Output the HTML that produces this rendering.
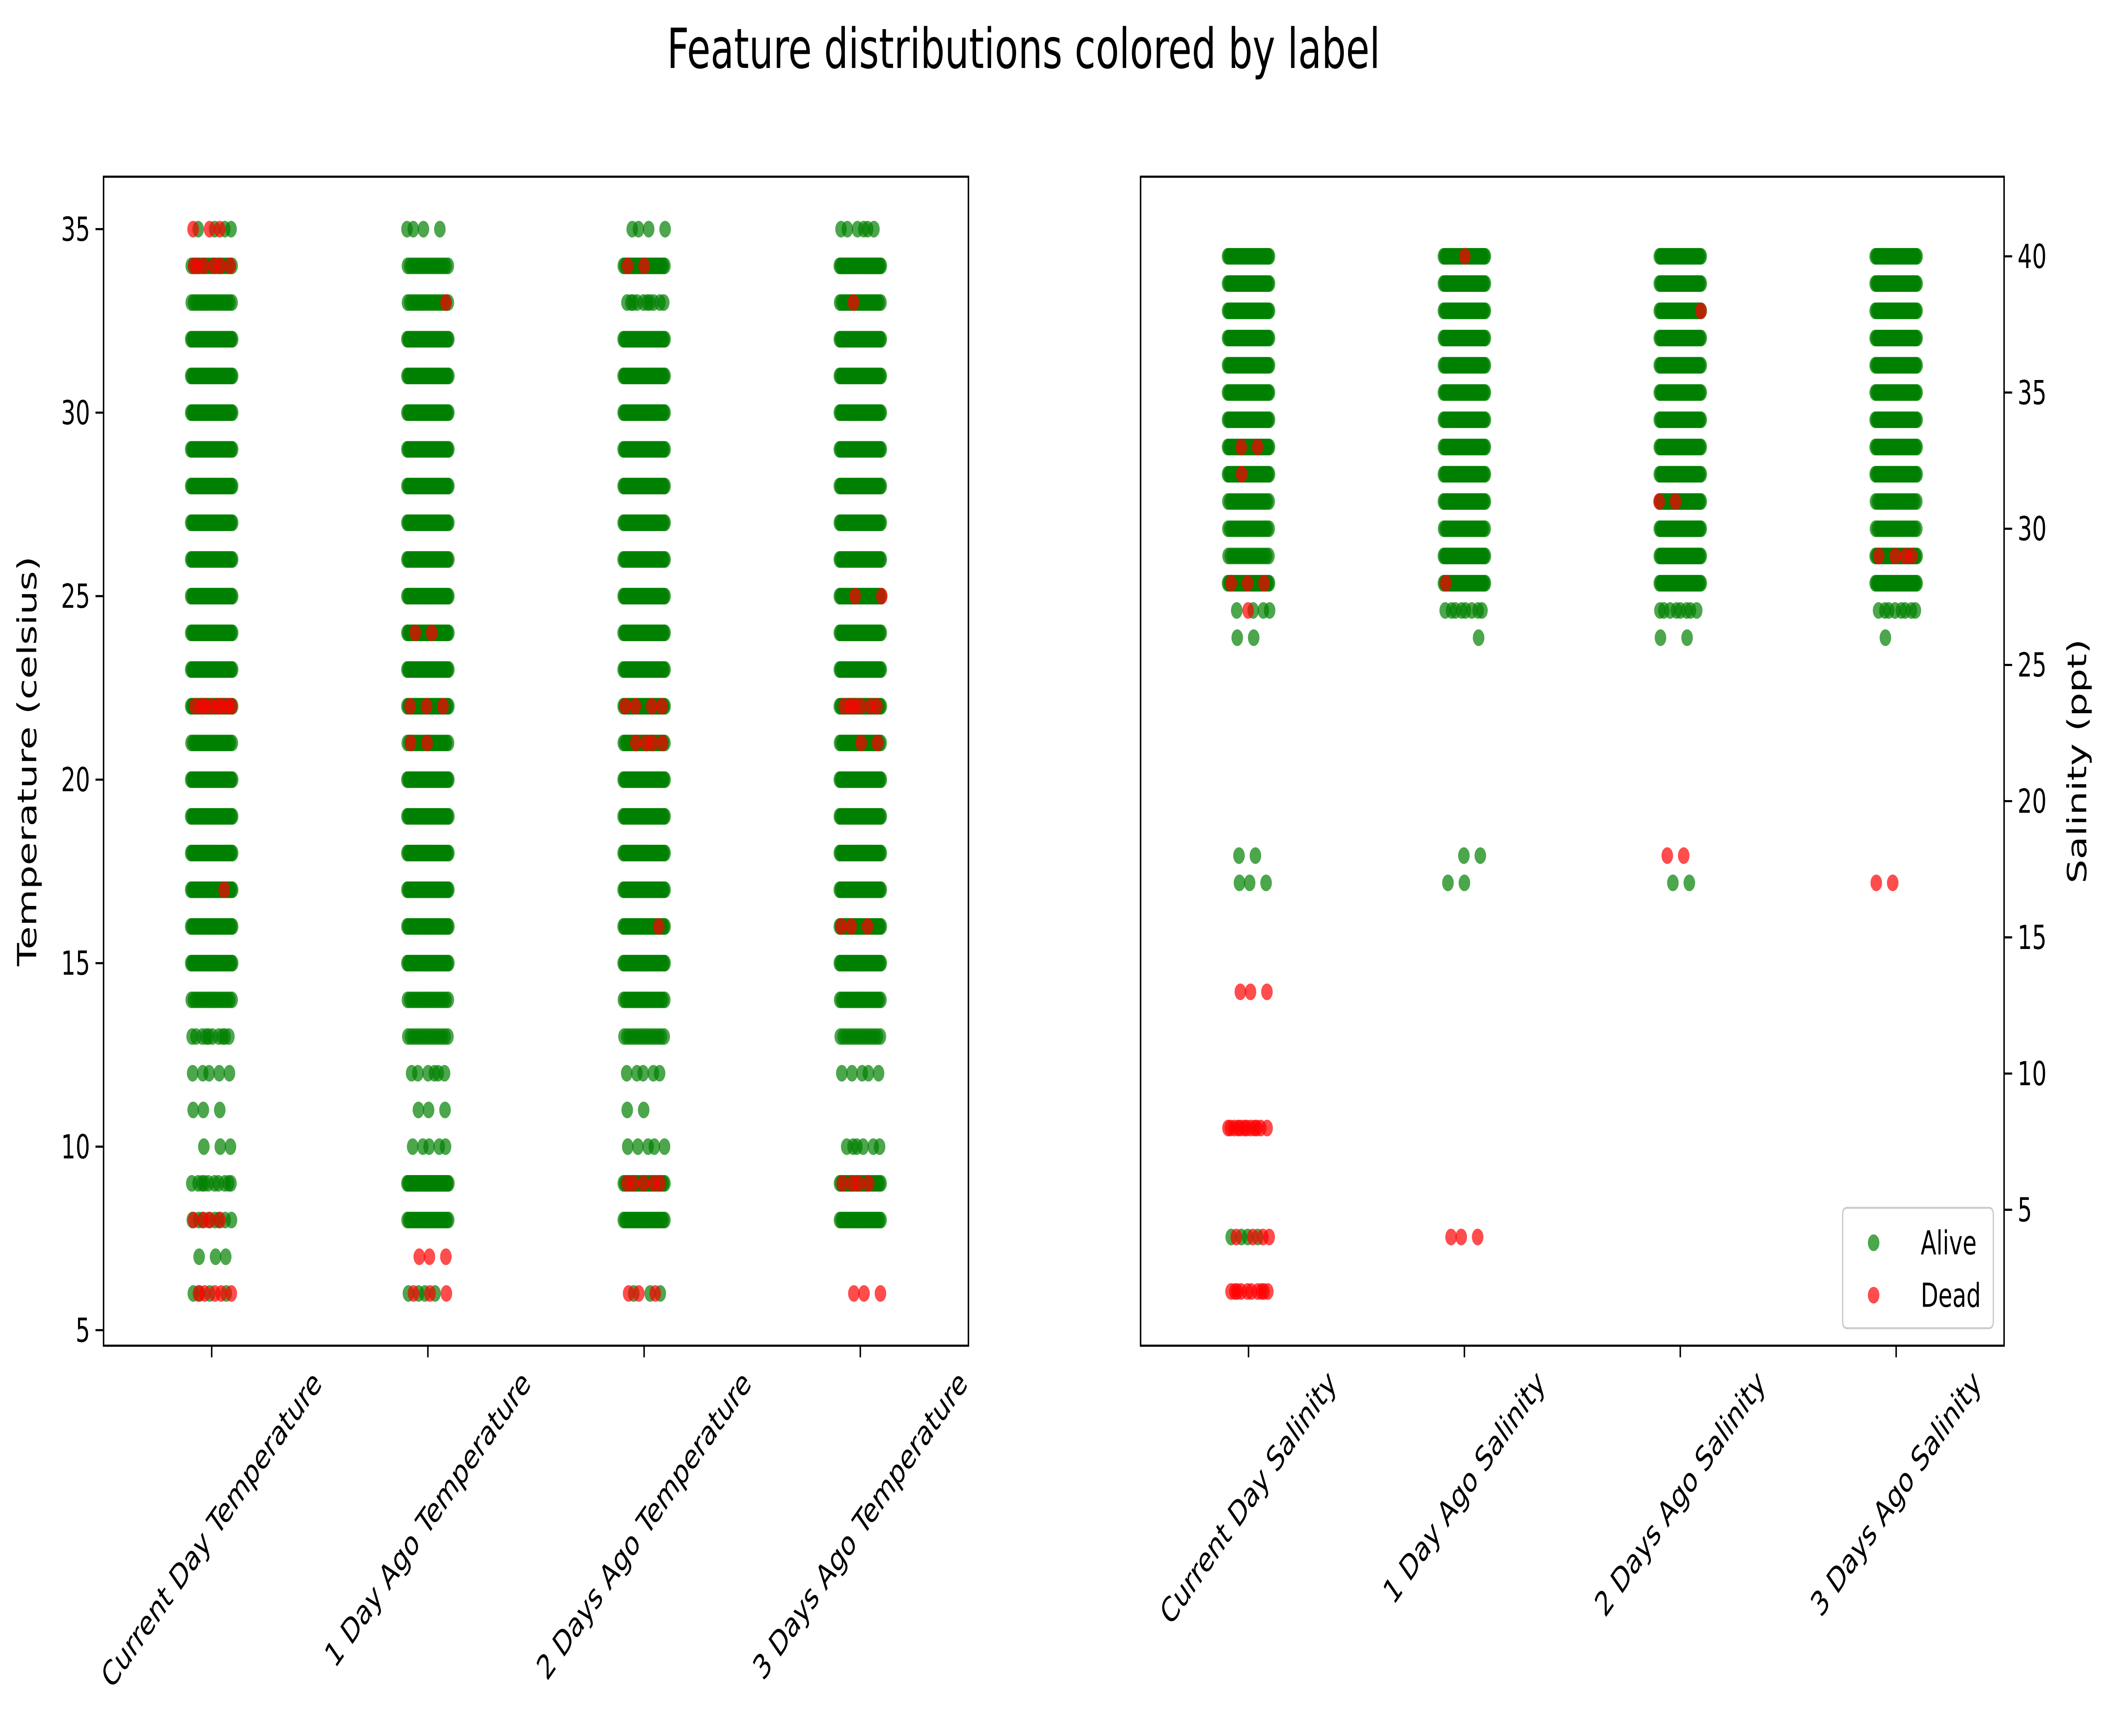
<!DOCTYPE html>
<html><head><meta charset="utf-8"><style>html,body{margin:0;padding:0;background:#fff;width:100%;height:100%;overflow:hidden}svg{display:block;width:100vw;height:100vh}</style></head>
<body>
<svg id="chart" viewBox="0 0 1568 894" preserveAspectRatio="none" xmlns="http://www.w3.org/2000/svg" font-family="DejaVu Sans, Liberation Sans, sans-serif">
<rect width="1568" height="894" fill="#fff"/>
<text x="761" y="35" font-size="28.5" text-anchor="middle">Feature distributions colored by label</text>
<g id="left"></g>
<g id="right"></g>
<text transform="translate(27,392) rotate(-90)" font-size="19.5" text-anchor="middle">Temperature (celsius)</text>
<text transform="translate(1551,392) rotate(-90)" font-size="19.5" text-anchor="middle">Salinity (ppt)</text>
<g>
<rect x="1370" y="622" width="112" height="62" rx="3" fill="#fff" stroke="#ccc"/>
<circle cx="1393" cy="640" r="4.3" fill="#008000" fill-opacity="0.7"/>
<text x="1428" y="646" font-size="17">Alive</text>
<circle cx="1393" cy="667" r="4.3" fill="#ff0000" fill-opacity="0.7"/>
<text x="1428" y="673" font-size="17">Dead</text>
</g>
</svg>
<script>
const tempCategories = ["Current Day Temperature","1 Day Ago Temperature","2 Days Ago Temperature","3 Days Ago Temperature"];
const salCategories = ["Current Day Salinity","1 Day Ago Salinity","2 Days Ago Salinity","3 Days Ago Salinity"];
const tempTicks = [5,10,15,20,25,30,35];
const salTicks = [5,10,15,20,25,30,35,40];
const tempAlive0 = [[6,4],[7,3],[8,8],[9,10],[10,3],[11,3],[12,5],[13,10],[14,20],[15,40],[16,40],[17,40],[18,40],[19,40],[20,40],[21,25],[22,40],[23,40],[24,40],[25,40],[26,40],[27,40],[28,40],[29,40],[30,40],[31,40],[32,40],[33,20],[34,20],[35,4]];
const tempDead0 = [[6,5],[8,4],[17,1],[22,8],[34,6],[35,3]];
const tempAlive1 = [[6,4],[8,30],[9,40],[10,5],[11,3],[12,6],[13,15],[14,20],[15,40],[16,40],[17,40],[18,40],[19,40],[20,40],[21,25],[22,40],[23,40],[24,40],[25,40],[26,40],[27,40],[28,40],[29,40],[30,40],[31,40],[32,40],[33,20],[34,20],[35,4]];
const tempDead1 = [[6,3],[7,3],[21,2],[22,3],[24,2],[33,1]];
const tempAlive2 = [[6,3],[8,30],[9,30],[10,5],[11,2],[12,5],[13,15],[14,25],[15,40],[16,40],[17,40],[18,40],[19,40],[20,40],[21,30],[22,40],[23,40],[24,40],[25,40],[26,40],[27,40],[28,40],[29,40],[30,40],[31,40],[32,40],[33,10],[34,30],[35,4]];
const tempDead2 = [[6,3],[9,5],[16,1],[21,4],[22,4],[34,2]];
const tempAlive3 = [[8,30],[9,30],[10,6],[12,5],[13,15],[14,25],[15,40],[16,40],[17,40],[18,40],[19,40],[20,40],[21,30],[22,40],[23,40],[24,40],[25,40],[26,40],[27,40],[28,40],[29,40],[30,40],[31,40],[32,40],[33,25],[34,40],[35,6]];
const tempDead3 = [[6,3],[9,4],[16,3],[21,2],[22,6],[25,2],[33,1]];
const salAlive0 = [[4,4],[17,3],[18,2],[26,2],[27,4],[28,40],[29,20],[30,25],[31,25],[32,40],[33,40],[34,40],[35,40],[36,40],[37,40],[38,40],[39,40],[40,40]];
const salDead0 = [[2,10],[4,4],[8,12],[13,3],[27,1],[28,3],[32,1],[33,2]];
const salAlive1 = [[17,2],[18,2],[26,1],[27,8],[28,40],[29,40],[30,30],[31,40],[32,40],[33,40],[34,40],[35,40],[36,40],[37,40],[38,40],[39,40],[40,40]];
const salDead1 = [[4,3],[28,1],[40,1]];
const salAlive2 = [[17,2],[26,2],[27,8],[28,40],[29,40],[30,40],[31,40],[32,40],[33,40],[34,40],[35,40],[36,40],[37,40],[38,40],[39,40],[40,40]];
const salDead2 = [[18,2],[31,2],[38,1]];
const salAlive3 = [[26,1],[27,8],[28,40],[29,40],[30,25],[31,25],[32,40],[33,40],[34,40],[35,40],[36,40],[37,40],[38,40],[39,40],[40,40]];
const salDead3 = [[17,2],[29,4]];
const tempAlive = [tempAlive0,tempAlive1,tempAlive2,tempAlive3];
const tempDead = [tempDead0,tempDead1,tempDead2,tempDead3];
const salAlive = [salAlive0,salAlive1,salAlive2,salAlive3];
const salDead = [salDead0,salDead1,salDead2,salDead3];

const NS="http://www.w3.org/2000/svg";
function mk(tag,attrs,parent){const e=document.createElementNS(NS,tag);for(const k in attrs)e.setAttribute(k,attrs[k]);parent.appendChild(e);return e;}
function panel(g,x0,x1,y0,y1,yScale,cats,ticks,alive,dead,right){
  const catX=i=>x0+(x1-x0)*(i+0.5)/cats.length;
  const pts=mk('g',{},g);
  function draw(series,color,name){
    series.forEach((s,ci)=>{
      s.forEach(([v,n])=>{
        for(let j=0;j<n;j++){
          let f;
          if(n>=15) f=(j+0.5)/n-0.5; else {f=((j*0.618+v*0.37+ci*0.21+(color==='#ff0000'?0.5:0))%1)-0.5;}
          const c=mk('circle',{cx:catX(ci)+f*32,cy:yScale(v),r:4.3,fill:color,'fill-opacity':0.7},pts);
          
          
        }
      });
    });
  }
  draw(alive,'#008000','alive-point');
  draw(dead,'#ff0000','dead-point');
  const frame=mk('rect',{x:x0,y:y0,width:x1-x0,height:y1-y0,fill:'none',stroke:'#000','stroke-width':1.1},g);
  
  
  ticks.forEach(t=>{
    const y=yScale(t);
    const xa=right?x1:x0, d=right?6:-6;
    mk('line',{x1:xa,x2:xa+d,y1:y,y2:y,stroke:'#000','stroke-width':1.1},g);
    const tl=mk('text',{x:xa+(right?10:-10),y:y+6,'font-size':17,'text-anchor':right?'start':'end'},g);
    tl.textContent=t;
    
    
  });
  cats.forEach((c,i)=>{
    const x=catX(i);
    mk('line',{x1:x,x2:x,y1:y1,y2:y1+6,stroke:'#000','stroke-width':1.1},g);
    const tl=mk('text',{x:0,y:0,'font-size':17.5,'text-anchor':'middle','dominant-baseline':'central'},g);
    tl.textContent=c;
    
    
    const L=tl.getComputedTextLength();
    const h=17.5;
    const half=(L*0.7071+h*0.7071)/2;
    tl.setAttribute('transform',`translate(${x},${y1+10+half}) rotate(-45)`);
  });
}
const tY=v=>685-(v-5)*(567/30);
const sY=v=>623-(v-5)*(491/35);
panel(document.getElementById('left'),77,720,91,693,tY,tempCategories,tempTicks,tempAlive,tempDead,false);
panel(document.getElementById('right'),848,1490,91,693,sY,salCategories,salTicks,salAlive,salDead,true);
</script>
</body></html>
